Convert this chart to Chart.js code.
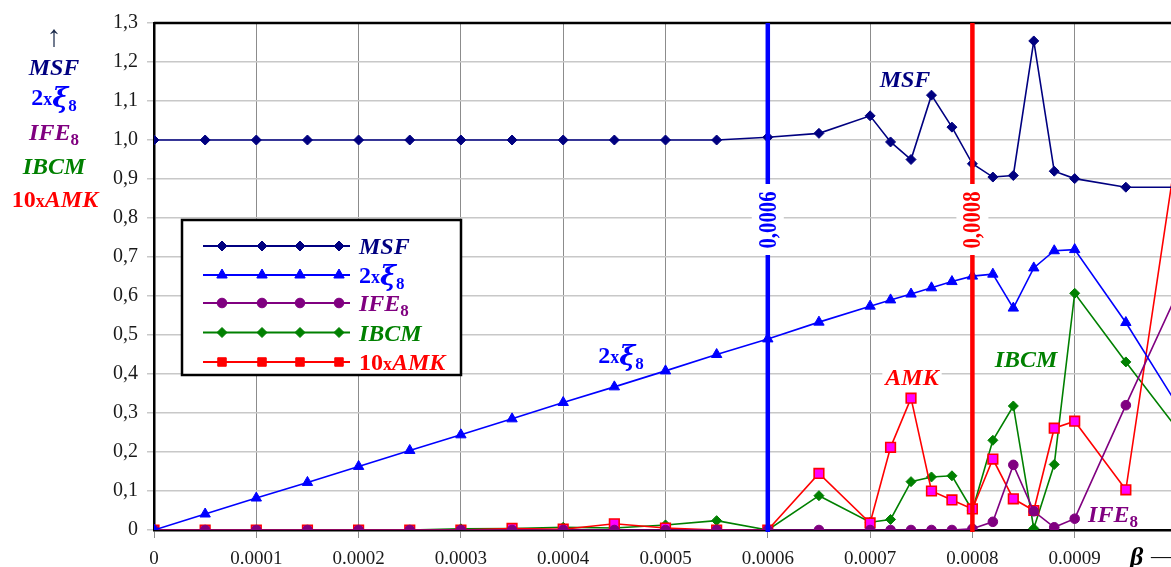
<!DOCTYPE html>
<html><head><meta charset="utf-8">
<script src="https://cdn.jsdelivr.net/npm/chart.js@4/dist/chart.umd.min.js"></script>
<style>
html,body{margin:0;padding:0;background:#fff;overflow:hidden;}
#wrap{width:1200px;height:567px;position:relative;}
</style></head><body>
<div id="wrap"><canvas id="c" width="1200" height="567"></canvas></div>
<script>
// ---- data ----
const betaValues = [0, 0.00005, 0.0001, 0.00015, 0.0002, 0.00025, 0.0003, 0.00035, 0.0004, 0.00045, 0.0005, 0.00055,
  0.0006, 0.00065, 0.0007, 0.00072, 0.00074, 0.00076, 0.00078, 0.0008, 0.00082, 0.00084, 0.00086, 0.00088, 0.0009, 0.00095, 0.001];
const msf = [1, 1, 1, 1, 1, 1, 1, 1, 1, 1, 1, 1,
  1.007, 1.017, 1.062, 0.995, 0.95, 1.115, 1.033, 0.939, 0.905, 0.909, 1.254, 0.92, 0.901, 0.879, 0.879];
const xi8x2 = [0, 0.041, 0.082, 0.122, 0.163, 0.204, 0.244, 0.285, 0.327, 0.367, 0.408, 0.45,
  0.49, 0.533, 0.574, 0.59, 0.605, 0.621, 0.637, 0.651, 0.656, 0.569, 0.672, 0.716, 0.719, 0.532, 0.322];
const ife8 = [0, 0, 0, 0, 0, 0, 0, 0, 0, 0, 0, 0,
  0, 0, 0, 0, 0, 0, 0, 0.003, 0.021, 0.167, 0.048, 0.007, 0.029, 0.32, 0.605];
const ibcm = [0, 0, 0, 0, 0, 0, 0.003, 0.004, 0.007, 0.005, 0.013, 0.024,
  0, 0.088, 0.02, 0.027, 0.124, 0.136, 0.139, 0.05, 0.23, 0.318, 0.004, 0.168, 0.607, 0.431, 0.26];
const amk10 = [0, 0, 0, 0, 0, 0, 0, 0.004, 0.002, 0.016, 0.005, 0,
  0, 0.145, 0.018, 0.212, 0.338, 0.10, 0.077, 0.054, 0.182, 0.08, 0.05, 0.261, 0.279, 0.103, 0.98];
const yTickValues = [0, 0.1, 0.2, 0.3, 0.4, 0.5, 0.6, 0.7, 0.8, 0.9, 1.0, 1.1, 1.2, 1.3];
const yTickLabels = ['0', '0,1', '0,2', '0,3', '0,4', '0,5', '0,6', '0,7', '0,8', '0,9', '1,0', '1,1', '1,2', '1,3'];
const xTickValues = [0, 0.0001, 0.0002, 0.0003, 0.0004, 0.0005, 0.0006, 0.0007, 0.0008, 0.0009];
const xTickLabels = ['0', '0.0001', '0.0002', '0.0003', '0.0004', '0.0005', '0.0006', '0.0007', '0.0008', '0.0009'];
const markerLines = [
  {value: 0.0006, label: '0,0006', color: '#0000ff'},
  {value: 0.0008, label: '0,0008', color: '#ff0000'}
];

// ---- styling ----
const FAM = '"Liberation Serif", "Times New Roman", serif';
const BI = s => `bold italic ${s}px ${FAM}`;
const B = s => `bold ${s}px ${FAM}`;
const C = {msf: '#000080', xi: '#0000ff', ife: '#800080', ibcm: '#008000', amk: '#ff0000'};

const names = {
  msf: [{t: 'MSF', f: BI(24)}],
  xi: [{t: '2', f: B(24)}, {t: 'x', f: B(18)}, {t: 'ξ', f: `bold italic 27px "DejaVu Serif", serif`, dy: 2}, {t: '8', f: B(17), dy: 6}],
  ife: [{t: 'IFE', f: BI(24)}, {t: '8', f: B(17), dy: 5}],
  ibcm: [{t: 'IBCM', f: BI(24)}],
  amk: [{t: '10', f: B(24)}, {t: 'x', f: B(18)}, {t: 'AMK', f: BI(24)}],
  amkOnly: [{t: 'AMK', f: BI(24)}]
};

function rich(ctx, parts, x, y, align, color, bg) {
  let w = 0;
  parts.forEach(p => { ctx.font = p.f; p.w = ctx.measureText(p.t).width; w += p.w; });
  let cx = align === 'center' ? x - w / 2 : x;
  if (bg) { ctx.fillStyle = '#fff'; ctx.fillRect(cx - 3, y - 19, w + 6, 24); }
  ctx.fillStyle = color;
  ctx.textBaseline = 'alphabetic';
  ctx.textAlign = 'left';
  parts.forEach(p => { ctx.font = p.f; ctx.fillText(p.t, cx, y + (p.dy || 0)); cx += p.w; });
}

function marker(ctx, style, x, y, r, fill, stroke, bw) {
  ctx.save();
  ctx.beginPath();
  if (style === 'circle') ctx.arc(x, y, r, 0, Math.PI * 2);
  else if (style === 'rectRot') { ctx.moveTo(x, y - r); ctx.lineTo(x + r, y); ctx.lineTo(x, y + r); ctx.lineTo(x - r, y); ctx.closePath(); }
  else if (style === 'triangle') { const h = r * Math.sin(Math.PI / 3); ctx.moveTo(x, y - r); ctx.lineTo(x + h, y + r / 2); ctx.lineTo(x - h, y + r / 2); ctx.closePath(); }
  else if (style === 'rect') { const s = r * Math.SQRT1_2; ctx.rect(x - s, y - s, 2 * s, 2 * s); }
  ctx.fillStyle = fill; ctx.fill();
  ctx.lineWidth = bw; ctx.strokeStyle = stroke; ctx.stroke();
  ctx.restore();
}

const series = [
  {key: 'msf', label: 'MSF', data: msf, style: 'rectRot', r: 5, fill: C.msf, stroke: C.msf, order: 1},
  {key: 'xi', label: '2xξ8', data: xi8x2, style: 'triangle', r: 6, fill: C.xi, stroke: C.xi, order: 2},
  {key: 'ife', label: 'IFE8', data: ife8, style: 'circle', r: 4.8, fill: C.ife, stroke: C.ife, order: 3},
  {key: 'ibcm', label: 'IBCM', data: ibcm, style: 'rectRot', r: 5, fill: C.ibcm, stroke: C.ibcm, order: 5},
  {key: 'amk', label: '10xAMK', data: amk10, style: 'rect', r: 6.8, fill: '#ff00ff', stroke: C.amk, order: 4}
];

const decorations = {
  id: 'decorations',
  afterDatasetsDraw(chart) {
    const ctx = chart.ctx, xs = chart.scales.x, a = chart.chartArea;
    ctx.save();
    ctx.strokeStyle = '#000'; ctx.lineWidth = 2.5;
    ctx.beginPath(); ctx.moveTo(a.left, a.top); ctx.lineTo(a.right, a.top); ctx.stroke();
    markerLines.forEach(m => {
      const px = xs.getPixelForValue(m.value);
      ctx.strokeStyle = m.color; ctx.lineWidth = 4.5;
      ctx.beginPath(); ctx.moveTo(px, a.top); ctx.lineTo(px, a.bottom + 2); ctx.stroke();
      ctx.fillStyle = '#fff';
      ctx.fillRect(px - 16, 184, 32, 71);
      ctx.save();
      ctx.translate(px, 220);
      ctx.rotate(-Math.PI / 2);
      ctx.font = B(26);
      ctx.textAlign = 'center'; ctx.textBaseline = 'middle';
      const w = ctx.measureText(m.label).width;
      ctx.scale(57 / w, 1);
      ctx.fillStyle = m.color;
      ctx.fillText(m.label, 0, 1);
      ctx.restore();
    });
    ctx.restore();
  },
  afterDraw(chart) {
    const ctx = chart.ctx;
    ctx.save();
    ctx.fillStyle = '#1a2a4a';
    ctx.font = `30px ${FAM}`;
    ctx.textAlign = 'center'; ctx.textBaseline = 'alphabetic';
    ctx.fillText('↑', 54, 46);
    rich(ctx, names.msf, 54, 75, 'center', C.msf);
    rich(ctx, names.xi, 54, 105, 'center', C.xi);
    rich(ctx, names.ife, 54, 140, 'center', C.ife);
    rich(ctx, names.ibcm, 54, 174, 'center', C.ibcm);
    rich(ctx, names.amk, 55, 207, 'center', C.amk);
    rich(ctx, names.msf, 905, 87, 'center', C.msf);
    rich(ctx, names.xi, 621, 363, 'center', C.xi);
    rich(ctx, names.amkOnly, 912, 385, 'center', C.amk, true);
    rich(ctx, names.ibcm, 1026, 367, 'center', C.ibcm, true);
    rich(ctx, names.ife, 1113, 522, 'center', C.ife);
    ctx.fillStyle = '#000';
    ctx.font = BI(26);
    ctx.textAlign = 'left';
    ctx.fillText('β', 1130, 565);
    ctx.font = `22px ${FAM}`;
    ctx.fillText('——→', 1151, 563);
    const L = {x: 182, y: 220, w: 279, h: 155};
    ctx.fillStyle = '#fff'; ctx.fillRect(L.x, L.y, L.w, L.h);
    ctx.strokeStyle = '#000'; ctx.lineWidth = 2.5; ctx.strokeRect(L.x, L.y, L.w, L.h);
    const rows = [246, 275, 303, 332.5, 362];
    const mx = [222, 262, 300, 339];
    series.forEach((s, i) => {
      const y = rows[i];
      ctx.strokeStyle = s.stroke; ctx.lineWidth = 1.8;
      ctx.beginPath(); ctx.moveTo(203, y); ctx.lineTo(350, y); ctx.stroke();
      mx.forEach(x => marker(ctx, s.style, x, y, s.style === 'rect' ? 6 : s.r, s.key === 'amk' ? C.amk : s.fill, s.stroke, 1));
      rich(ctx, names[s.key], 359, y + 8, 'left', C[s.key]);
    });
    ctx.restore();
  }
};

const datasets = series.map(s => ({
  label: s.label,
  data: betaValues.map((b, i) => ({x: b, y: s.data[i]})),
  borderColor: s.stroke,
  backgroundColor: s.fill,
  borderWidth: 1.6,
  pointStyle: s.style,
  pointRadius: s.r,
  pointBackgroundColor: s.fill,
  pointBorderColor: s.stroke,
  pointBorderWidth: s.key === 'amk' ? 1.6 : 1,
  tension: 0,
  order: s.order
}));

new Chart(document.getElementById('c'), {
  type: 'line',
  data: {datasets},
  plugins: [decorations],
  options: {
    responsive: false,
    animation: false,
    devicePixelRatio: 1,
    layout: {padding: {left: 0, top: 23, right: 23, bottom: 0}},
    plugins: {legend: {display: false}, tooltip: {enabled: false}},
    scales: {
      x: {
        type: 'linear', min: 0, max: 0.001,
        afterBuildTicks: s => { s.ticks = xTickValues.map(v => ({value: v})); },
        afterFit: s => { s.height = 37; },
        ticks: {
          callback: (v, i) => xTickLabels[i],
          font: {family: FAM, size: 19}, color: '#1a1a1a', padding: 10, maxRotation: 0, autoSkip: false
        },
        grid: {color: '#8c8c8c', lineWidth: 1, tickLength: 8, tickColor: '#8c8c8c'},
        border: {color: '#000', width: 2.5}
      },
      y: {
        min: 0, max: 1.3,
        afterBuildTicks: s => { s.ticks = yTickValues.map(v => ({value: v})); },
        afterFit: s => { s.width = 154; },
        ticks: {
          callback: (v, i) => yTickLabels[i],
          font: {family: FAM, size: 20}, color: '#1a1a1a', padding: 9
        },
        grid: {color: '#c8c8c8', lineWidth: 1.5, tickLength: 7, tickColor: '#c8c8c8'},
        border: {color: '#000', width: 2.5}
      }
    }
  }
});
</script>
</body></html>
